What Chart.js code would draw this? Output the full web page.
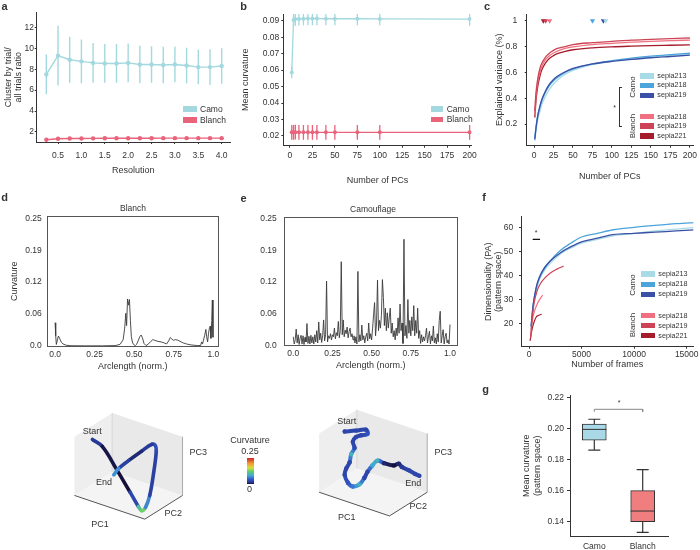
<!DOCTYPE html>
<html>
<head>
<meta charset="utf-8">
<title>Figure</title>
<script src="https://cdn.jsdelivr.net/npm/chart.js@4.4.1/dist/chart.umd.min.js"></script>
<style>
  body { margin: 0; background: #fff; }
  #fig { position: relative; width: 700px; height: 550px; overflow: hidden; font-family: "Liberation Sans", Arial, Helvetica, sans-serif; color: #333; }
  #fig canvas { position: absolute; }
  #fig div { position: absolute; }
</style>
</head>
<body>
<div id="fig"></div>
<script>
// ---------- data ----------
// a: cluster ratio vs resolution
var resolution = [0.25, 0.5, 0.75, 1, 1.25, 1.5, 1.75, 2, 2.25, 2.5, 2.75, 3, 3.25, 3.5, 3.75, 4];
var camoRatio = [7.5, 9.3, 8.9, 8.75, 8.6, 8.55, 8.55, 8.6, 8.45, 8.45, 8.4, 8.45, 8.35, 8.2, 8.2, 8.3];
var camoRatioSd = [1.9, 2.85, 2.2, 2.1, 1.9, 1.85, 1.85, 1.85, 1.8, 1.75, 1.75, 1.7, 1.7, 1.65, 1.7, 1.7];
var blanchRatio = [1.25, 1.35, 1.37, 1.38, 1.39, 1.4, 1.4, 1.4, 1.4, 1.4, 1.41, 1.41, 1.41, 1.41, 1.41, 1.41];
var blanchRatioSd = [0.08, 0.08, 0.08, 0.08, 0.08, 0.08, 0.08, 0.08, 0.08, 0.08, 0.08, 0.08, 0.08, 0.08, 0.08, 0.08];
var resTicks = [0.5, 1, 1.5, 2, 2.5, 3, 3.5, 4];
var resTickLabels = ['0.5', '1.0', '1.5', '2.0', '2.5', '3.0', '3.5', '4.0'];
var ratioTicks = [2, 4, 6, 8, 10, 12];

// b: mean curvature vs number of PCs
var pcsB = [2, 4, 6, 10, 15, 20, 25, 30, 40, 50, 75, 100, 200];
var camoCurv = [0.0585, 0.0905, 0.091, 0.091, 0.0912, 0.0913, 0.0913, 0.0913, 0.0912, 0.0912, 0.0912, 0.0911, 0.091];
var camoCurvSd = [0.0035, 0.004, 0.004, 0.004, 0.004, 0.004, 0.004, 0.004, 0.004, 0.004, 0.004, 0.004, 0.004];
var blanchCurv = [0.0222, 0.0222, 0.0223, 0.0222, 0.0222, 0.0222, 0.0222, 0.0222, 0.0222, 0.0222, 0.0222, 0.0222, 0.0222];
var blanchCurvSd = [0.0045, 0.0045, 0.0045, 0.0045, 0.0045, 0.0045, 0.0045, 0.0045, 0.0045, 0.0045, 0.0045, 0.0045, 0.0045];
var pcTicks = [0, 25, 50, 75, 100, 125, 150, 175, 200];
var curvTicks = [0.02, 0.03, 0.04, 0.05, 0.06, 0.07, 0.08, 0.09];
var curvTickLabels = ['0.02', '0.03', '0.04', '0.05', '0.06', '0.07', '0.08', '0.09'];

// c: explained variance vs number of PCs
var pcGrid = [1, 2, 3, 5, 8, 10, 15, 20, 25, 30, 40, 50, 75, 100, 125, 150, 175, 200];
var varCamo213 = [0.07, 0.12, 0.17, 0.24, 0.31, 0.35, 0.42, 0.47, 0.51, 0.54, 0.585, 0.615, 0.66, 0.685, 0.705, 0.72, 0.732, 0.742];
var varCamo218 = [0.09, 0.15, 0.2, 0.27, 0.34, 0.38, 0.45, 0.5, 0.535, 0.56, 0.6, 0.625, 0.665, 0.69, 0.71, 0.725, 0.737, 0.748];
var varCamo219 = [0.08, 0.14, 0.19, 0.27, 0.35, 0.39, 0.46, 0.51, 0.545, 0.57, 0.605, 0.63, 0.665, 0.685, 0.7, 0.713, 0.723, 0.733];
var varBlanch218 = [0.27, 0.37, 0.44, 0.53, 0.61, 0.645, 0.7, 0.73, 0.75, 0.765, 0.785, 0.797, 0.815, 0.825, 0.834, 0.84, 0.846, 0.85];
var varBlanch219 = [0.3, 0.4, 0.47, 0.56, 0.64, 0.67, 0.72, 0.75, 0.77, 0.785, 0.8, 0.815, 0.83, 0.84, 0.85, 0.856, 0.862, 0.866];
var varBlanch221 = [0.25, 0.34, 0.41, 0.5, 0.58, 0.62, 0.675, 0.71, 0.73, 0.745, 0.763, 0.775, 0.79, 0.798, 0.803, 0.807, 0.81, 0.813];
var markerPcs = [12, 15, 20, 75, 89, 92];
var markerLevel = 1;
var varTicks = [0.2, 0.4, 0.6, 0.8, 1];
var varTickLabels = ['0.2', '0.4', '0.6', '0.8', '1'];

// d: blanch curvature profile
var arcD = [0, 0.004, 0.008, 0.015, 0.021, 0.03, 0.04, 0.05, 0.07, 0.1, 0.2, 0.3, 0.38, 0.41, 0.43, 0.44, 0.447, 0.452, 0.458, 0.464, 0.47, 0.476, 0.482, 0.49, 0.5, 0.507, 0.515, 0.525, 0.535, 0.544, 0.552, 0.562, 0.575, 0.59, 0.605, 0.618, 0.63, 0.65, 0.67, 0.69, 0.705, 0.718, 0.728, 0.738, 0.749, 0.76, 0.775, 0.79, 0.81, 0.83, 0.86, 0.9, 0.92, 0.926, 0.932, 0.937, 0.945, 0.953, 0.958, 0.964, 0.97, 0.976, 0.981, 0.985, 0.99, 0.994, 0.998];
var curvD = [0.0455, 0.02, 0.003, 0.012, 0.0195, 0.014, 0.007, 0.004, 0.0015, 0.0005, 0.0003, 0.0003, 0.0008, 0.003, 0.012, 0.035, 0.064, 0.04, 0.092, 0.08, 0.091, 0.05, 0.018, 0.006, 0.002, 0.0005, 0.003, 0.01, 0.018, 0.0215, 0.016, 0.005, 0.0008, 0.004, 0.009, 0.0125, 0.011, 0.009, 0.008, 0.006, 0.004, 0.01, 0.0165, 0.0135, 0.011, 0.0125, 0.0115, 0.009, 0.006, 0.004, 0.002, 0.0008, 0.001, 0.008, 0.004, 0.01, 0.02, 0.0325, 0.018, 0.008, 0.025, 0.036, 0.039, 0.015, 0.05, 0.09, 0.017];

// e: camouflage curvature profile (uniform samples along normalised arclength)
var curvE = [
  0.018, 0.004, 0.012, 0.033, 0.006, 0.022, 0.003, 0.015, 0.021, 0.004,
  0.02, 0.003, 0.017, 0.008, 0.044, 0.005, 0.019, 0.004, 0.021, 0.006,
  0.018, 0.004, 0.022, 0.008, 0.03, 0.006, 0.047, 0.012, 0.025, 0.007,
  0.02, 0.051, 0.01, 0.022, 0.127, 0.008, 0.02, 0.015, 0.024, 0.012,
  0.022, 0.018, 0.035, 0.014, 0.026, 0.02, 0.048, 0.016, 0.03, 0.165,
  0.022, 0.051, 0.018, 0.031, 0.024, 0.037, 0.016, 0.028, 0.035, 0.018,
  0.024, 0.012, 0.02, 0.006, 0.018, 0.004, 0.146, 0.008, 0.022, 0.01,
  0.041, 0.012, 0.02, 0.006, 0.018, 0.025, 0.01, 0.045, 0.014, 0.024,
  0.012, 0.035, 0.061, 0.085, 0.02, 0.045, 0.129, 0.03, 0.05, 0.035,
  0.06, 0.13, 0.095, 0.04, 0.074, 0.03, 0.065, 0.035, 0.055, 0.074,
  0.025, 0.045, 0.018, 0.03, 0.012, 0.035, 0.02, 0.055, 0.025, 0.082,
  0.03, 0.045, 0.005, 0.209, 0.02, 0.04, 0.015, 0.091, 0.025, 0.05,
  0.02, 0.057, 0.03, 0.079, 0.02, 0.05, 0.025, 0.074, 0.015, 0.03,
  0.005, 0.022, 0.008, 0.018, 0.01, 0.02, 0.035, 0.006, 0.018, 0.029,
  0.004, 0.02, 0.01, 0.039, 0.006, 0.016, 0.004, 0.024, 0.008, 0.05,
  0.068, 0.006, 0.02, 0.032, 0.004, 0.018, 0.025, 0.006, 0.012, 0.004, 0.042
];
var arcTicks = [0, 0.25, 0.5, 0.75, 1];
var arcTickLabels = ['0.0', '0.25', '0.50', '0.75', '1.0'];
var kTicks = [0, 0.0625, 0.125, 0.1875, 0.25];
var kTickLabels = ['0.0', '0.06', '0.12', '0.19', '0.25'];

// f: dimensionality vs number of frames
var framesCamo = [200, 400, 700, 1000, 1500, 2000, 3000, 4000, 5000, 6500, 8000, 10000, 12000, 14000, 16000];
var dimCamo213 = [18, 27, 34, 38.5, 42.5, 45, 49, 51.5, 53.5, 55, 56.5, 57.5, 58.5, 59.3, 60];
var dimCamo218 = [19, 28, 35, 39, 43, 46, 50.5, 53.5, 56, 57.5, 59, 60, 60.8, 61.5, 62];
var dimCamo219 = [19, 28, 35.5, 39.5, 43.5, 46, 49.5, 52, 54, 55.5, 57, 57.5, 58, 58.5, 59];
var framesBlanch218 = [150, 300, 500, 800, 1000, 1300];
var dimBlanch218 = [15, 21, 25, 28.5, 30, 32];
var framesBlanch219 = [150, 300, 500, 800, 1000, 1300, 2000, 2700, 3300];
var dimBlanch219 = [14, 22, 29, 34, 36, 38, 41, 42.8, 44];
var framesBlanch221 = [100, 300, 500, 700, 800, 1000, 1200];
var dimBlanch221 = [13, 18, 21, 23, 23.3, 23.7, 24];
var sigFrames = [350, 1050];
var sigLevel = 55;
var frameTicks = [0, 5000, 10000, 15000];
var dimTicks = [20, 30, 40, 50, 60];

// g: box plot of mean curvature in pattern space
var groups = ['Camo', 'Blanch'];
var boxLow = [0.1861, 0.1332];
var boxQ1 = [0.1925, 0.140];
var boxMedian = [0.1994, 0.1469];
var boxQ3 = [0.2028, 0.160];
var boxHigh = [0.2059, 0.1735];
var bracketLevel = 0.2123;
var gTicks = [0.14, 0.16, 0.18, 0.2, 0.22];
var gTickLabels = ['0.14', '0.16', '0.18', '0.20', '0.22'];

// 3D trajectories (PC1, PC2, PC3 in box units) and curvature along them
var pc1Blanch = [-0.013, 0.127, 0.337, 0.522, 0.64, 0.686, 0.742, 0.802, 0.863, 0.895, 0.881, 0.835, 0.686, 0.5, 0.36, 0.291];
var pc2Blanch = [0.5, 0.5, 0.5, 0.5, 0.5, 0.5, 0.5, 0.5, 0.5, 0.5, 0.5, 0.5, 0.5, 0.5, 0.5, 0.5];
var pc3Blanch = [0.745, 0.684, 0.365, 0.065, -0.131, -0.183, -0.106, 0.122, 0.577, 0.913, 1.003, 1.006, 0.828, 0.592, 0.402, 0.266];
var kBlanch = [0.03, 0.005, 0, 0, 0.06, 0.15, 0.1, 0.03, 0.02, 0.03, 0.04, 0.03, 0.01, 0.01, 0.04, 0.1];
var pc1Camo = [0.095, 0.257, 0.397, 0.42, 0.327, 0.257, 0.211, 0.235, 0.187, 0.165, 0.117, 0.095, 0.141, 0.211, 0.304, 0.374, 0.42, 0.49, 0.56, 0.654, 0.793, 0.863, 0.909, 1.003, 1.095, 1.156];
var pc2Camo = [0.5, 0.5, 0.5, 0.5, 0.5, 0.5, 0.5, 0.5, 0.5, 0.5, 0.5, 0.5, 0.5, 0.5, 0.5, 0.5, 0.5, 0.5, 0.5, 0.5, 0.5, 0.5, 0.5, 0.5, 0.5, 0.5];
var pc3Camo = [0.869, 0.95, 1.023, 0.961, 0.898, 0.842, 0.744, 0.645, 0.519, 0.374, 0.248, 0.132, 0.016, -0.019, 0.055, 0.192, 0.316, 0.453, 0.561, 0.556, 0.574, 0.631, 0.594, 0.579, 0.552, 0.544];
var kCamo = [0.03, 0.03, 0.03, 0.04, 0.03, 0.03, 0.03, 0.03, 0.09, 0.03, 0.03, 0.03, 0.04, 0.06, 0.09, 0.03, 0.03, 0.08, 0.09, 0.01, 0, 0.01, 0.02, 0.03, 0.03, 0.03];
var cbarRange = [0, 0.25];

// ---------- colours ----------
var CAMO = '#a3d9de', BLANCH = '#e9637b';
var S213 = '#a9dbe6', S218C = '#4ba4dc', S219C = '#3a4fa6';
var S218B = '#f07080', S219B = '#cc4455', S221B = '#a51d2d';
var cmapStops = [[0, '#14103a'], [0.06, '#25368f'], [0.18, '#3556c8'], [0.32, '#3fa8d8'], [0.48, '#5fcb72'], [0.62, '#d6df3e'], [0.8, '#f3952e'], [1, '#c9242a']];

function hexRgb(h) { return [parseInt(h.substr(1, 2), 16), parseInt(h.substr(3, 2), 16), parseInt(h.substr(5, 2), 16)]; }
function cmap(v) {
  var t = Math.max(0, Math.min(1, v / cbarRange[1]));
  for (var i = 1; i < cmapStops.length; i++) {
    if (t <= cmapStops[i][0]) {
      var a = cmapStops[i - 1], b = cmapStops[i];
      var f = (t - a[0]) / (b[0] - a[0]);
      var ca = hexRgb(a[1]), cb = hexRgb(b[1]);
      return 'rgb(' + ca.map(function (c, k) { return Math.round(c + (cb[k] - c) * f); }).join(',') + ')';
    }
  }
  return cmapStops[cmapStops.length - 1][1];
}

// ---------- helpers ----------
var fig = document.getElementById('fig');
Chart.defaults.font.family = '"Liberation Sans", Arial, Helvetica, sans-serif';
Chart.defaults.font.size = 8.5;
Chart.defaults.color = '#333';

function txt(s, x, y, size, o) {
  o = o || {};
  var d = document.createElement('div');
  d.textContent = s;
  d.style.left = x + 'px';
  d.style.top = y + 'px';
  d.style.fontSize = size + 'px';
  d.style.lineHeight = '1';
  d.style.whiteSpace = 'nowrap';
  if (o.bold) d.style.fontWeight = 'bold';
  d.style.transform = 'translate(' + (o.left ? '0' : '-50%') + ',-50%)' + (o.rot ? ' rotate(-90deg)' : '');
  fig.appendChild(d);
}
function rect(x, y, w, h, color) {
  var d = document.createElement('div');
  d.style.cssText = 'left:' + x + 'px;top:' + y + 'px;width:' + w + 'px;height:' + h + 'px;background:' + color;
  fig.appendChild(d);
}
function pts(xs, ys) { return xs.map(function (x, i) { return {x: x, y: ys[i]}; }); }
function errBars(xs, ys, sd) {
  var out = [];
  xs.forEach(function (x, i) { out.push({x: x, y: ys[i] - sd[i]}, {x: x, y: ys[i] + sd[i]}, {x: x, y: null}); });
  return out;
}
function lineDs(data, color, w, extra) {
  return Object.assign({type: 'line', data: data, borderColor: color, backgroundColor: color, borderWidth: w,
    pointRadius: 0, pointBorderWidth: 0, tension: 0, spanGaps: false}, extra || {});
}

function axis(o) {
  var tl = o.tick === undefined ? 2 : o.tick;
  return {
    type: 'linear', min: o.min, max: o.max, offset: false,
    afterBuildTicks: function (s) { s.ticks = o.ticks.map(function (v) { return {value: v}; }); },
    afterFit: function (s) { if (o.horiz) s.height = o.size; else s.width = o.size; },
    ticks: {autoSkip: false, maxRotation: 0, minRotation: 0, padding: o.pad, color: '#333', font: {size: 8.5},
      callback: function (v, i) { return o.labels ? o.labels[i] : String(v); }},
    grid: {display: tl > 0, drawOnChartArea: false, drawTicks: tl > 0, tickLength: tl, color: '#333', offset: false},
    border: {display: o.border !== false, color: '#333', width: 1},
    title: o.title ? {display: true, text: o.title, color: '#333', font: {size: 9, lineHeight: 1.15},
      padding: o.horiz ? {top: 0, bottom: o.tpad} : {top: o.tpad, bottom: 0}} : {display: false}
  };
}

function makeChart(L, T, W, H, area, cfg) {
  var c = document.createElement('canvas');
  c.width = W; c.height = H;
  c.style.left = L + 'px'; c.style.top = T + 'px';
  fig.appendChild(c);
  cfg.x.horiz = true;
  cfg.x.size = T + H - area[3];
  cfg.y.size = area[0] - L;
  return new Chart(c, {
    type: cfg.type || 'line',
    data: {datasets: cfg.datasets},
    options: {
      responsive: false, animation: false,
      layout: {padding: {left: 0, top: area[1] - T, right: L + W - area[2], bottom: 0}},
      plugins: {legend: {display: false}, tooltip: {enabled: false}},
      scales: {x: axis(cfg.x), y: axis(cfg.y)}
    },
    plugins: cfg.plugins || []
  });
}

var frame = {
  id: 'frame',
  afterDatasetsDraw: function (chart) {
    var a = chart.chartArea, c = chart.ctx;
    c.save();
    c.strokeStyle = '#555';
    c.lineWidth = 1;
    c.strokeRect(Math.round(a.left) + 0.5, Math.round(a.top) + 0.5, Math.round(a.width) - 1, Math.round(a.height) - 1);
    c.restore();
  }
};

// ---------- a ----------
makeChart(0, 0, 240, 190, [36.7, 12.7, 230, 142], {
  datasets: [
    lineDs(pts(resolution, camoRatio), CAMO, 1.4, {pointRadius: 2.2}),
    lineDs(errBars(resolution, camoRatio, camoRatioSd), CAMO, 1.4),
    lineDs(pts(resolution, blanchRatio), BLANCH, 1.4, {pointRadius: 2.2}),
    lineDs(errBars(resolution, blanchRatio, blanchRatioSd), BLANCH, 1.4)
  ],
  x: {min: 0.044, max: 4.178, ticks: resTicks, labels: resTickLabels, pad: 6.6, title: 'Resolution', tpad: 14.8},
  y: {min: 1.04, max: 13.4, ticks: ratioTicks, pad: 0.7, title: ['Cluster by trial/', 'all trials ratio'], tpad: 3.1}
});

// ---------- b ----------
makeChart(240, 0, 240, 190, [283.3, 14, 472, 145.7], {
  datasets: [
    lineDs(pts(pcsB, camoCurv), CAMO, 1.3, {pointRadius: 2}),
    lineDs(errBars(pcsB, camoCurv, camoCurvSd), CAMO, 1.3),
    lineDs(pts(pcsB, blanchCurv), BLANCH, 1.3, {pointRadius: 2}),
    lineDs(errBars(pcsB, blanchCurv, blanchCurvSd), BLANCH, 1.3)
  ],
  x: {min: -7.4, max: 202.2, ticks: pcTicks, pad: 3.2, title: 'Number of PCs', tpad: 4.8},
  y: {min: 0.0141, max: 0.0941, ticks: curvTicks, labels: curvTickLabels, pad: 2, title: 'Mean curvature', tpad: 0.8}
});

// ---------- c ----------
var curveOpts = {cubicInterpolationMode: 'monotone'};
makeChart(480, 0, 220, 190, [526.7, 14, 693.3, 145.7], {
  datasets: [
    lineDs(markerPcs.map(function (p) { return {x: p, y: markerLevel}; }), '#333', 0, {
      showLine: false, pointStyle: 'triangle', rotation: 180, pointRadius: 3,
      pointBackgroundColor: [S221B, S219B, S218B, S218C, S219C, S213]}),
    lineDs(pts(pcGrid, varBlanch219), S219B, 1.3, curveOpts),
    lineDs(pts(pcGrid, varBlanch218), S218B, 1.3, curveOpts),
    lineDs(pts(pcGrid, varBlanch221), S221B, 1.3, curveOpts),
    lineDs(pts(pcGrid, varCamo219), S219C, 1.3, curveOpts),
    lineDs(pts(pcGrid, varCamo218), S218C, 1.3, curveOpts),
    lineDs(pts(pcGrid, varCamo213), S213, 1.3, curveOpts)
  ],
  x: {min: -9.4, max: 204, ticks: pcTicks, pad: 2.9, title: 'Number of PCs', tpad: 8.1},
  y: {min: 0.032, max: 1.052, ticks: varTicks, labels: varTickLabels, pad: 7.4, title: 'Explained variance (%)', tpad: 14.1}
});

// ---------- d ----------
makeChart(0, 190, 235, 190, [46.7, 216, 219, 346.5], {
  datasets: [lineDs(pts(arcD, curvD), '#3a3a3a', 0.9)],
  x: {min: -0.053, max: 1.036, ticks: arcTicks, labels: arcTickLabels, pad: 3.4, tick: 0, border: false, title: 'Arclength (norm.)', tpad: 8.1},
  y: {min: -0.001, max: 0.2545, ticks: kTicks, labels: kTickLabels, pad: 5, tick: 0, border: false, title: 'Curvature', tpad: 9.8},
  plugins: [frame]
});

// ---------- e ----------
var arcE = curvE.map(function (v, i) { return i / (curvE.length - 1); });
makeChart(240, 190, 230, 190, [284, 216.7, 457.7, 346], {
  datasets: [lineDs(pts(arcE, curvE), '#3a3a3a', 0.9)],
  x: {min: -0.059, max: 1.049, ticks: arcTicks, labels: arcTickLabels, pad: 2.9, tick: 0, border: false, title: 'Arclength (norm.)', tpad: 9.1},
  y: {min: 0, max: 0.2531, ticks: kTicks, labels: kTickLabels, pad: 7.3, tick: 0, border: false},
  plugins: [frame]
});

// ---------- f ----------
makeChart(470, 190, 230, 190, [521, 216.7, 693.3, 346.7], {
  datasets: [
    lineDs(sigFrames.map(function (f) { return {x: f, y: sigLevel}; }), '#111', 1.2),
    lineDs(pts(framesBlanch219, dimBlanch219), S219B, 1.2, curveOpts),
    lineDs(pts(framesBlanch218, dimBlanch218), S218B, 1.2, curveOpts),
    lineDs(pts(framesBlanch221, dimBlanch221), S221B, 1.2, curveOpts),
    lineDs(pts(framesCamo, dimCamo219), S219C, 1.3, curveOpts),
    lineDs(pts(framesCamo, dimCamo218), S218C, 1.3, curveOpts),
    lineDs(pts(framesCamo, dimCamo213), S213, 1.3, curveOpts)
  ],
  x: {min: -761, max: 15628, ticks: frameTicks, pad: 1.2, title: 'Number of frames', tpad: 10.5},
  y: {min: 10.6, max: 64.4, ticks: dimTicks, pad: 5.7, title: ['Dimensionality (PA)', '(pattern space)'], tpad: 13.1}
});

// ---------- g ----------
var capW = 0.124, boxW = 0.25;
var whisk = [], meds = [];
groups.forEach(function (g, i) {
  whisk.push({x: i, y: boxQ3[i]}, {x: i, y: boxHigh[i]}, {x: i, y: null},
             {x: i - capW, y: boxHigh[i]}, {x: i + capW, y: boxHigh[i]}, {x: i, y: null},
             {x: i, y: boxQ1[i]}, {x: i, y: boxLow[i]}, {x: i, y: null},
             {x: i - capW, y: boxLow[i]}, {x: i + capW, y: boxLow[i]}, {x: i, y: null});
  meds.push({x: i - boxW, y: boxMedian[i]}, {x: i + boxW, y: boxMedian[i]}, {x: i, y: null});
});
makeChart(480, 375, 220, 175, [570, 395, 668.3, 536.7], {
  type: 'bar',
  datasets: [
    lineDs(meds, '#333', 1),
    lineDs(whisk, '#333', 1.2),
    lineDs([{x: 0, y: bracketLevel - 0.0016}, {x: 0, y: bracketLevel}, {x: 1, y: bracketLevel}, {x: 1, y: bracketLevel - 0.0016}], '#888', 1),
    {type: 'bar', data: groups.map(function (g, i) { return {x: i, y: [boxQ1[i], boxQ3[i]]}; }),
      backgroundColor: ['#a9d9e6', '#f07e7e'], borderColor: '#333', borderWidth: 1, borderSkipped: false, barThickness: 24}
  ],
  x: {min: -0.502, max: 1.529, ticks: [0, 1], labels: groups, pad: 4.9, tick: 0},
  y: {min: 0.1304, max: 0.2215, ticks: gTicks, labels: gTickLabels, pad: 3, tick: 3, title: ['Mean curvature', '(pattern space)'], tpad: 41.5}
});

// ---------- 3D trajectories ----------
var axA = [71.6, -25], axB = [38.4, 25], axH = 62;
var originBlanch = [71.7, 53.3], originCamo = [320.7, 56.7];
function proj(o, u, v, w) { return {x: o[0] + u * axA[0] + v * axB[0], y: o[1] + u * axA[1] + v * axB[1] + w * axH}; }
function poly(o, corners) { return corners.map(function (c) { return proj(o, c[0], c[1], c[2]); }); }
function boxSets(o) {
  return [
    lineDs(poly(o, [[0, 0, 0], [1, 0, 0], [1, 1, 0]]), '#555', 1),
    lineDs(poly(o, [[1, 1, 0], [1, 1, 1]]), '#aaa', 1),
    lineDs(poly(o, [[0, 1, 0], [0, 1, 1]]), '#d6d6d6', 1),
    lineDs(poly(o, [[0, 0, 0], [0, 1, 0], [0, 1, 1], [0, 0, 1], [0, 0, 0]]), '#eeeeee', 0, {fill: 'shape', backgroundColor: '#eeeeee'}),
    lineDs(poly(o, [[0, 1, 0], [1, 1, 0], [1, 1, 1], [0, 1, 1], [0, 1, 0]]), '#e9e9e9', 0, {fill: 'shape', backgroundColor: '#e9e9e9'}),
    lineDs(poly(o, [[0, 0, 0], [1, 0, 0], [1, 1, 0], [0, 1, 0], [0, 0, 0]]), '#f4f4f4', 0, {fill: 'shape', backgroundColor: '#f4f4f4'})
  ];
}
function traj(o, p1, p2, p3, k, w, r) {
  return lineDs(p1.map(function (u, i) { return proj(o, u, p2[i], p3[i]); }), cmap(0.03), w, {
    tension: 0.4, borderCapStyle: 'round', borderJoinStyle: 'round', pointRadius: r,
    pointBackgroundColor: k.map(cmap),
    segment: {borderColor: function (ctx) { return cmap((k[ctx.p0DataIndex] + k[ctx.p1DataIndex]) / 2); }}
  });
}
var c3 = document.createElement('canvas');
c3.width = 460; c3.height = 155;
c3.style.left = '0px'; c3.style.top = '395px';
fig.appendChild(c3);
new Chart(c3, {
  type: 'scatter',
  data: {datasets: [
    traj(originBlanch, pc1Blanch, pc2Blanch, pc3Blanch, kBlanch, 3.6, 0),
    traj(originCamo, pc1Camo, pc2Camo, pc3Camo, kCamo, 4, 2.2)
  ].concat(boxSets(originBlanch), boxSets(originCamo))},
  options: {
    responsive: false, animation: false,
    layout: {padding: 0},
    plugins: {legend: {display: false}, tooltip: {enabled: false}},
    scales: {x: {type: 'linear', min: 0, max: 460, display: false}, y: {type: 'linear', min: 0, max: 155, display: false}}
  }
});

// colour bar
var cb = document.createElement('canvas');
cb.width = 7; cb.height = 26;
cb.style.left = '246.5px'; cb.style.top = '457.5px';
fig.appendChild(cb);
new Chart(cb, {
  type: 'bar',
  data: {labels: [''], datasets: [{data: [cbarRange], barPercentage: 1, categoryPercentage: 1, borderWidth: 0,
    backgroundColor: function (ctx) {
      var a = ctx.chart.chartArea;
      if (!a) return cmap(0.1);
      var g = ctx.chart.ctx.createLinearGradient(0, a.bottom, 0, a.top);
      cmapStops.forEach(function (s) { g.addColorStop(s[0], s[1]); });
      return g;
    }}]},
  options: {
    responsive: false, animation: false, layout: {padding: 0},
    plugins: {legend: {display: false}, tooltip: {enabled: false}},
    scales: {x: {display: false}, y: {display: false, min: cbarRange[0], max: cbarRange[1]}}
  }
});

// ---------- text, legends, annotations ----------
[['a', 4.5, 5.5], ['b', 243.5, 5.5], ['c', 487, 5.5], ['d', 4.5, 197], ['e', 243.5, 197.5], ['f', 484, 197], ['g', 485.5, 388.5]]
  .forEach(function (p) { txt(p[0], p[1], p[2], 11, {bold: true}); });

rect(182.7, 106, 14, 6, CAMO); rect(182.7, 116.7, 14, 6, BLANCH);
txt('Camo', 200, 109.3, 8.5, {left: true}); txt('Blanch', 200, 120, 8.5, {left: true});

rect(431.3, 106, 12, 5.5, CAMO); rect(431.3, 116.5, 12, 5.5, BLANCH);
txt('Camo', 446.7, 108.7, 8.5, {left: true}); txt('Blanch', 446.7, 119.3, 8.5, {left: true});

function sepiaLegend(x, ys, tx, rotX, camoY, blanchY) {
  var cols = [S213, S218C, S219C, S218B, S219B, S221B];
  var names = ['sepia213', 'sepia218', 'sepia219', 'sepia218', 'sepia219', 'sepia221'];
  ys.forEach(function (y, i) { rect(x, y - 2.75, 14, 5.5, cols[i]); txt(names[i], tx, y, 7.2, {left: true}); });
  txt('Camo', rotX, camoY, 8, {rot: true});
  txt('Blanch', rotX, blanchY, 8, {rot: true});
}
sepiaLegend(640, [76, 85.3, 95.3, 116.7, 126, 136], 657.3, 633.3, 86.7, 126);
sepiaLegend(641, [274, 284.3, 294.3, 315.7, 325.7, 335.7], 658.3, 633.3, 285, 325);

rect(618.5, 86.5, 1, 40, '#333'); rect(618.5, 86.5, 3, 1, '#333'); rect(618.5, 125.5, 3, 1, '#333');
txt('*', 614.5, 107, 7);
txt('*', 536, 232, 7);
txt('*', 619, 402, 7);

txt('Blanch', 133, 208, 8.5);
txt('Camouflage', 373, 209, 8.5);

txt('Start', 92.3, 430.7, 9); txt('End', 104, 482.3, 9);
txt('PC3', 198.3, 451.7, 9); txt('PC2', 173.3, 512.7, 9); txt('PC1', 100, 524, 9);
txt('Start', 346.7, 420.7, 9); txt('End', 413.3, 482.7, 9);
txt('PC3', 443.3, 451.7, 9); txt('PC2', 418.3, 506, 9); txt('PC1', 346.7, 516.7, 9);
txt('Curvature', 250, 440, 9); txt('0.25', 250, 450.5, 9); txt('0', 249.5, 489, 9);
</script>
</body>
</html>
